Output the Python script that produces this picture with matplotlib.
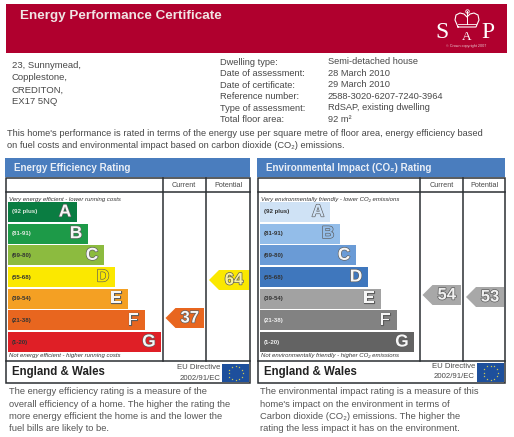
import numpy as np
import matplotlib
matplotlib.use('Agg')
import matplotlib.pyplot as plt
import matplotlib.patheffects as pe
from matplotlib.patches import Rectangle, Polygon

plt.rcParams['font.family'] = ['Liberation Sans', 'DejaVu Sans']

# bands of the rating scale
letters = ['A', 'B', 'C', 'D', 'E', 'F', 'G']
ranges = ['(92 plus)', '(81-91)', '(69-80)', '(55-68)', '(39-54)', '(21-38)', '(1-20)']
# bar lengths, in pixels
eff_lengths = [69, 80, 96, 107, 120, 137, 153]
env_lengths = [70, 80, 96, 108, 121, 137, 154]
eff_colors = ['#0a7d42', '#1d9a48', '#8cbb3f', '#fbe800', '#f4a023', '#e8661f', '#df1f26']
env_colors = ['#cfe2f5', '#93bde9', '#6a9bd6', '#3f77bd', '#a2a2a2', '#828282', '#636363']
eff_current, eff_potential = 37, 64
env_current, env_potential = 54, 53

address = ['23, Sunnymead,', 'Copplestone,', 'CREDITON,', 'EX17 5NQ']
detail_names = ['Dwelling type:', 'Date of assessment:', 'Date of certificate:',
                'Reference number:', 'Type of assessment:', 'Total floor area:']
detail_values = ['Semi-detached house', '28 March 2010', '29 March 2010',
                 '2588-3020-6207-7240-3964', 'RdSAP, existing dwelling', '92 m²']
intro = ["This home's performance is rated in terms of the energy use per square metre of floor area, energy efficiency based",
         'on fuel costs and environmental impact based on carbon dioxide (CO₂) emissions.']
eff_notes = ['The energy efficiency rating is a measure of the',
             'overall efficiency of a home. The higher the rating the',
             'more energy efficient the home is and the lower the',
             'fuel bills are likely to be.']
env_notes = ['The environmental impact rating is a measure of this',
             "home's impact on the environment in terms of",
             'Carbon dioxide (CO₂) emissions. The higher the',
             'rating the less impact it has on the environment.']

TXT = '#484848'
LINE = '#2b2f33'

fig = plt.figure(figsize=(5.14, 4.37), dpi=100, facecolor='white')
ax = fig.add_axes([0, 0, 1, 1])
ax.set_xlim(0, 514)
ax.set_ylim(437, 0)
ax.axis('off')


def arrow(x0, x1, yc, color, fill, value):
    ax.add_patch(Polygon([(x0, yc), (x0 + 10, yc - 10), (x1, yc - 10), (x1, yc + 10), (x0 + 10, yc + 10)],
                         closed=True, fc=color, ec='none', zorder=3))
    ax.text((x0 + x1) / 2 + 5, yc, str(value), ha='center', va='center', fontsize=12, fontweight='bold',
            color=fill, zorder=4, path_effects=[pe.withStroke(linewidth=1, foreground='#5c5c5c')])


def panel(x0, x1, col1, col2, bar_x, title, lengths, colors, top_note, bottom_note, cur, pot, flag_y, flag_h,
          eu_y, light, range_colors):
    # blue title strip
    ax.add_patch(Rectangle((x0 - 1, 158), x1 - x0 + 1, 19, fc='#4a7dbe', ec='none'))
    ax.text(x0 + 8.5, 168, title, color='#e9eef6', fontsize=7.1, fontweight='bold', va='center')
    # grid
    ax.add_patch(Rectangle((x0, 178), x1 - x0, 205, fc='white', ec=LINE, lw=1.1))
    ax.plot([x0, x1], [192, 192], color=LINE, lw=1.1)
    ax.plot([x0, x1], [361, 361], color=LINE, lw=1.1)
    ax.plot([col1, col1], [178, 361], color=LINE, lw=1.1)
    ax.plot([col2, col2], [178, 361], color=LINE, lw=1.1)
    ax.text((col1 + col2) / 2, 185.5, 'Current', fontsize=5.2, color=TXT, ha='center', va='center')
    ax.text((col2 + x1) / 2, 185.5, 'Potential', fontsize=5.2, color=TXT, ha='center', va='center')
    ax.text(x0 + 3, 199, top_note, fontsize=4.35, style='italic', color='#333333', va='center')
    ax.text(x0 + 3, 355.5, bottom_note, fontsize=4.35, style='italic', color='#333333', va='center')
    # rating bars
    ys = 212 + np.arange(7) * 21.67
    ax.barh(ys, lengths, height=20.2, left=bar_x, color=colors, zorder=2)
    for i in range(7):
        ax.text(bar_x + 3.5, ys[i], ranges[i], fontsize=4.4, fontweight='bold', color=range_colors[i],
                va='center', zorder=3)
        fill = colors[i] if light[i] else '#f6f6f6'
        ax.text(bar_x + lengths[i] - 12, ys[i], letters[i], fontsize=12.5, fontweight='bold', color=fill,
                ha='center', va='center', zorder=3,
                path_effects=[pe.withStroke(linewidth=0.9, foreground='#5c5c5c')])
    # footer
    ax.text(x0 + 6, 372.5, 'England & Wales', fontsize=8.3, fontweight='bold', color='#222222', va='center')
    ax.add_patch(Rectangle((x1 - 28, flag_y), 27, flag_h, fc='#1d4f9c', ec='none', zorder=3))
    ang = np.arange(12) * np.pi / 6
    ax.scatter(x1 - 14.5 + 7 * np.cos(ang), flag_y + flag_h / 2 + 7 * np.sin(ang), s=2.5, c='#e6d94a', marker='*',
               lw=0, zorder=4)
    ax.text(x1 - 30, eu_y, 'EU Directive', fontsize=5.6, color=TXT, ha='right', va='center')
    ax.text(x1 - 30, eu_y + 11, '2002/91/EC', fontsize=5.6, color=TXT, ha='right', va='center')
    # current / potential
    arrow(col1 + 3, col2 - 2, cur[1], cur[2], cur[3], cur[0])
    arrow(col2 + 3, x1 - 1, pot[1], pot[2], pot[3], pot[0])


# red banner
ax.add_patch(Rectangle((5.5, 4), 501, 49, fc='#b0002e', ec='none'))
ax.text(20, 16, 'Energy Performance Certificate', color='#f0e4e4', fontsize=9.7, fontweight='bold', va='center')
# SAP logo
ax.text(442, 33, 'S', color='white', fontsize=17, family='Liberation Serif', ha='center', va='center')
ax.text(467, 37, 'A', color='white', fontsize=9.5, family='Liberation Serif', ha='center', va='center')
ax.text(488, 33, 'P', color='white', fontsize=17, family='Liberation Serif', ha='center', va='center')
crown_x = [458, 455, 456, 460, 464, 467, 470, 474, 478, 479, 476, 458]
crown_y = [27, 20, 15, 13, 14, 17, 14, 13, 15, 20, 27, 27]
ax.plot(crown_x, crown_y, color='white', lw=0.8)
ax.plot([458, 476], [24, 24], color='white', lw=0.6)
ax.plot([467, 467], [11, 24], color='white', lw=0.7)
ax.plot([467], [11], 'o', ms=2.5, mfc='none', mec='white', mew=0.6)
ax.text(466, 46, '© Crown copyright 2007', color='#e8c8d0', fontsize=2.7, ha='center', va='center')

for i, s in enumerate(address):
    ax.text(12, 66 + i * 12, s, fontsize=6.8, color=TXT, va='center')
for i, (a, b) in enumerate(zip(detail_names, detail_values)):
    ax.text(220, 62.5 + i * 11.4, a, fontsize=6.65, color=TXT, va='center')
    ax.text(328, 62 + i * 11.4, b, fontsize=6.65, color=TXT, va='center')
for i, s in enumerate(intro):
    ax.text(7, 134 + i * 12, s, fontsize=6.68, color=TXT, va='center')

eff_range_colors = ['#dfeadf', '#dfeadf', '#333333', '#333333', '#333333', '#333333', '#333333']
env_range_colors = ['#333333', '#333333', '#333333', '#333333', '#333333', '#eeeeee', '#eeeeee']
panel(6, 250, 162.5, 206, 8, 'Energy Efficiency Rating', eff_lengths, eff_colors,
      'Very energy efficient - lower running costs', 'Not energy efficient - higher running costs',
      (eff_current, 318, '#e8661f', '#f6f6f6'), (eff_potential, 280, '#fbe800', '#f8f0a0'), 364, 18, 367.5,
      [False, False, False, True, False, False, False], eff_range_colors)
panel(258, 505, 419.5, 463, 260, 'Environmental Impact (CO₂) Rating', env_lengths, env_colors,
      'Very environmentally friendly - lower CO₂ emissions', 'Not environmentally friendly - higher CO₂ emissions',
      (env_current, 295, '#a8a8a8', '#f0f0f0'), (env_potential, 297, '#a8a8a8', '#f0f0f0'), 363, 19, 366,
      [True, True, False, False, False, False, False], env_range_colors)

for i, s in enumerate(eff_notes):
    ax.text(9, 392 + i * 12.2, s, fontsize=6.75, color='#555555', va='center')
for i, s in enumerate(env_notes):
    ax.text(260, 392 + i * 12.2, s, fontsize=6.75, color='#555555', va='center')

fig.savefig('out.png', dpi=100, facecolor='white')
